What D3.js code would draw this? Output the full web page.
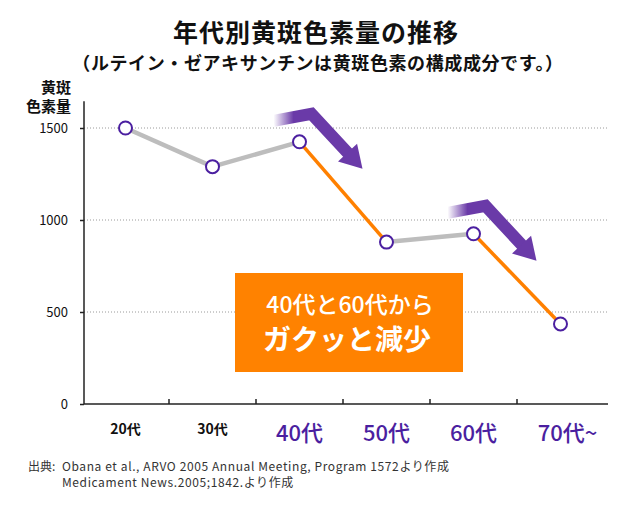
<!DOCTYPE html>
<html><head><meta charset="utf-8">
<script src="https://cdn.jsdelivr.net/npm/d3@7/dist/d3.min.js"></script>
<style>
html,body{margin:0;padding:0;background:#fff;}
text{font-family:"Noto Sans CJK JP","Noto Sans",sans-serif;}
</style></head>
<body><svg id="c" width="630" height="516"></svg>
<script>
const categories = ["20代","30代","40代","50代","60代","70代~"];
const values = [1500, 1290, 1425, 880, 925, 435];
const dropStarts = ["40代","60代"];
const yTicks = [0, 500, 1000, 1500];
const title = "年代別黄斑色素量の推移";
const subtitle = "（ルテイン・ゼアキサンチンは黄斑色素の構成成分です。）";
const yLabel = ["黄斑","色素量"];
const callout = ["40代と60代から","ガクッと減少"];
const source = ["出典:", "Obana et al., ARVO 2005 Annual Meeting, Program 1572より作成", "Medicament News.2005;1842.より作成"];

const svg = d3.select("#c");
const x = d3.scaleBand().domain(categories).range([82, 604]);
const cx = d => x(d) + x.bandwidth()/2;
const y = d3.scaleLinear().domain([0, 1500]).range([404, 128]);
const axisL = 84, axisR = 608;

// title
svg.append("text").attr("x",316).attr("y",31).attr("text-anchor","middle")
  .attr("dominant-baseline","central").attr("font-size",25).attr("font-weight","bold")
  .attr("letter-spacing",1).attr("fill","#111").text(title);
svg.append("text").attr("x",318).attr("y",62).attr("text-anchor","middle")
  .attr("dominant-baseline","central").attr("font-size",18).attr("font-weight","bold")
  .attr("letter-spacing",0.6).attr("fill","#111").text(subtitle);

// y label
yLabel.forEach((t,i)=>svg.append("text").attr("x",71).attr("y",86+i*19)
  .attr("text-anchor","end").attr("dominant-baseline","central")
  .attr("font-size",15).attr("font-weight","bold").attr("fill","#111").text(t));

// grid
svg.append("g").selectAll("line").data(yTicks.filter(d=>d>0)).join("line")
  .attr("x1",axisL).attr("x2",axisR).attr("y1",d=>y(d)).attr("y2",d=>y(d))
  .attr("stroke","#9a9a9a").attr("stroke-width",1).attr("stroke-dasharray","1,2");

// y axis
const ya = svg.append("g").attr("transform",`translate(${axisL},0)`)
  .call(d3.axisLeft(y).tickValues(yTicks).tickSize(4).tickPadding(12).tickFormat(d3.format("d")));
ya.select(".domain").remove();
ya.selectAll(".tick line").attr("stroke","#222").attr("stroke-width",1.5);
ya.selectAll(".tick text").attr("font-size",13).attr("fill","#111")
  .attr("font-family","'Noto Sans CJK JP',sans-serif");
svg.append("line").attr("x1",axisL).attr("x2",axisL).attr("y1",y(1645)).attr("y2",y(0))
  .attr("stroke","#222").attr("stroke-width",1.5);

// x axis
svg.append("line").attr("x1",axisL).attr("x2",axisR).attr("y1",y(0)).attr("y2",y(0))
  .attr("stroke","#222").attr("stroke-width",1.5);
svg.append("g").selectAll("line").data(categories.slice(1)).join("line")
  .attr("x1",d=>x(d)).attr("x2",d=>x(d)).attr("y1",y(0)).attr("y2",y(0)-5)
  .attr("stroke","#222").attr("stroke-width",1.5);
svg.append("g").selectAll("text").data(categories).join("text")
  .attr("x",(d,i)=>cx(d)+(d.endsWith("~")?7:0)).attr("y",(d,i)=>i<2?428:431)
  .attr("text-anchor","middle").attr("dominant-baseline","central")
  .attr("font-size",(d,i)=>i<2?14:22).attr("font-weight",(d,i)=>i<2?"bold":"500")
  .attr("fill",(d,i)=>i<2?"#111":"#4b1fa0").text(d=>d);

// callout box
svg.append("rect").attr("x",235).attr("y",273).attr("width",228).attr("height",99)
  .attr("fill","#ff8200");
svg.append("text").attr("x",350).attr("y",303).attr("text-anchor","middle")
  .attr("dominant-baseline","central").attr("font-size",23).attr("font-weight","500")
  .attr("fill","#fff").text(callout[0]);
svg.append("text").attr("x",347).attr("y",338).attr("text-anchor","middle")
  .attr("dominant-baseline","central").attr("font-size",28).attr("font-weight","bold")
  .attr("fill","#fff").text(callout[1]);

// arrows
const defs = svg.append("defs");
dropStarts.forEach((c,k)=>{
  const px = cx(c), py = y(values[categories.indexOf(c)]);
  const g = defs.append("linearGradient").attr("id","fade"+k)
    .attr("gradientUnits","userSpaceOnUse").attr("x1",px-26).attr("x2",px-6).attr("y1",0).attr("y2",0);
  g.append("stop").attr("offset",0).attr("stop-color","#6a3aa8").attr("stop-opacity",0);
  g.append("stop").attr("offset",1).attr("stop-color","#6a3aa8").attr("stop-opacity",1);
  const tip = [px+63, py+27];
  const corner = [px+12, py-28];
  const dx = tip[0]-corner[0], dy = tip[1]-corner[1], L = Math.hypot(dx,dy);
  const ux = dx/L, uy = dy/L, nx = uy, ny = -ux;
  const bc = [tip[0]-22*ux, tip[1]-22*uy];
  svg.append("path")
    .attr("d",`M${px-26},${py-21}L${corner[0]},${corner[1]}L${bc[0]+ux},${bc[1]+uy}`)
    .attr("fill","none").attr("stroke",`url(#fade${k})`).attr("stroke-width",12)
    .attr("stroke-linejoin","miter");
  svg.append("path")
    .attr("d",`M${tip[0]},${tip[1]}L${bc[0]+13*nx},${bc[1]+13*ny}L${bc[0]-13*nx},${bc[1]-13*ny}Z`)
    .attr("fill","#6a3aa8");
});

// line segments
const segs = d3.pairs(categories.map((c,i)=>({c, v:values[i]})));
svg.append("g").selectAll("line").data(segs).join("line")
  .attr("x1",d=>cx(d[0].c)).attr("y1",d=>y(d[0].v))
  .attr("x2",d=>cx(d[1].c)).attr("y2",d=>y(d[1].v))
  .attr("stroke",d=>dropStarts.includes(d[0].c)?"#ff8000":"#bdbdbd")
  .attr("stroke-width",d=>dropStarts.includes(d[0].c)?3.5:4.5);

// markers
svg.append("g").selectAll("circle").data(categories).join("circle")
  .attr("cx",d=>cx(d)).attr("cy",(d,i)=>y(values[i])).attr("r",6.5)
  .attr("fill","#fff").attr("stroke","#4b1fa0").attr("stroke-width",2);

// source
svg.append("text").attr("x",28).attr("y",465).attr("dominant-baseline","central")
  .attr("font-size",12).attr("fill","#333").text(source[0]);
[source[1],source[2]].forEach((t,i)=>svg.append("text").attr("x",62).attr("y",465+16*i)
  .attr("dominant-baseline","central").attr("font-size",12).attr("letter-spacing",0.6)
  .attr("fill","#333").text(t));
</script></body></html>
